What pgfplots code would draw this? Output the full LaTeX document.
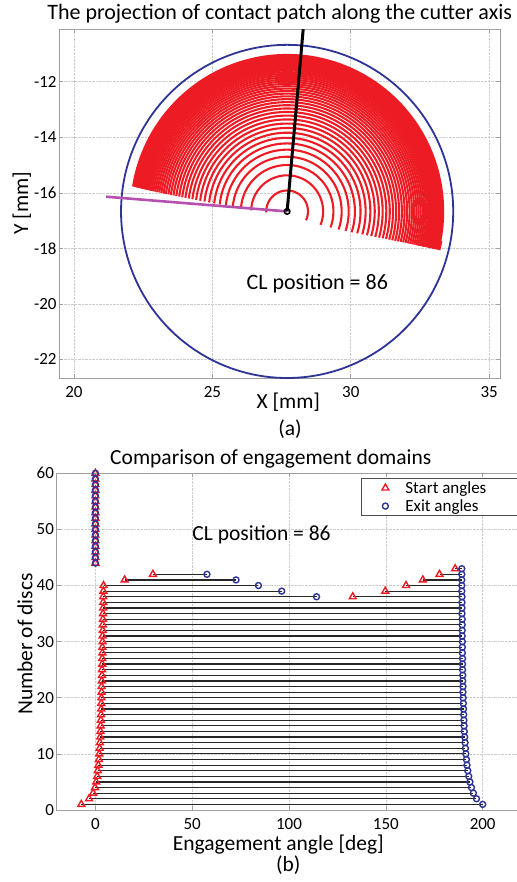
\documentclass[border=0pt]{standalone}
\usepackage{pgfplots}
\usepackage{pgfplotstable}
\pgfplotsset{compat=1.18}
\usepackage{fontspec}
\setmainfont{Carlito}

\definecolor{arcred}{RGB}{237,28,36}
\definecolor{cblue}{RGB}{46,52,150}
\definecolor{cpurple}{RGB}{182,80,176}

\pgfplotsset{
  wideimg/.style={legend image code/.code={
    \path[draw=none, fill=none] (0pt,-3pt) rectangle (40pt,3pt);
    \path[##1, draw=none] plot[only marks] coordinates {(21pt,0pt)};}},
}

% engagement segments: disc, start angle, exit angle [deg]
\pgfplotstableread{
disc start exit
1 -7.3 200.0
2 -3.3 196.8
3 -1.2 195.2
4 -0.2 194.2
5 0.4 193.4
6 0.9 192.8
7 1.2 192.3
8 1.5 191.9
9 1.8 191.6
10 2.0 191.3
11 2.2 191.1
12 2.3 190.9
13 2.5 190.7
14 2.6 190.5
15 2.7 190.4
16 2.8 190.3
17 2.9 190.2
18 3.0 190.1
19 3.0 190.0
20 3.1 189.9
21 3.2 189.8
22 3.2 189.8
23 3.3 189.7
24 3.4 189.7
25 3.4 189.6
26 3.5 189.6
27 3.5 189.6
28 3.6 189.5
29 3.6 189.5
30 3.7 189.5
31 3.7 189.4
32 3.8 189.4
33 3.8 189.4
34 3.9 189.4
35 3.9 189.3
36 4.0 189.3
37 4.0 189.3
38 4.0 114.2
38 132.9 189.3
39 4.1 96.2
39 149.7 189.2
40 4.2 84.2
40 160.4 189.2
41 15.1 72.6
41 169.1 189.2
42 29.7 57.6
42 177.7 189.2
43 185.8 189.2
44 0 0
45 0 0
46 0 0
47 0 0
48 0 0
49 0 0
50 0 0
51 0 0
52 0 0
53 0 0
54 0 0
55 0 0
56 0 0
57 0 0
58 0 0
59 0 0
60 0 0
}\segtab

\begin{document}
\begin{tikzpicture}
\path[use as bounding box] (0,0) rectangle (516pt,882pt);
\pgfplotsset{
  mystyle/.style={
    scale only axis,
    clip mode=individual,
    axis line style={gray!75, line width=0.8pt},
    tick style={gray!75, line width=0.6pt},
    tick align=inside,
    major tick length=4pt,
    grid=major,
    grid style={densely dotted, gray!40, line width=0.6pt},
    /pgf/number format/assume math mode=true,
    tick label style={font=\fontsize{17}{20}\selectfont, inner sep=0pt},
    xticklabel style={yshift=-8pt},
    yticklabel style={xshift=-2.6pt},
    label style={font=\fontsize{21.5}{24}\selectfont},
  }
}
% ---------------- (a) ----------------
\begin{axis}[mystyle,
  at={(59.3pt,503.7pt)}, anchor=south west,
  width=440.7pt, height=349pt,
  xmin=19.47, xmax=35.39, ymin=-22.68, ymax=-10.11,
  xtick={20,25,30,35}, ytick={-22,-20,-18,-16,-14,-12},
  title={The projection of contact patch along the cutter axis},
  every axis title/.style={at={(axis description cs:0.5,1.028)}, anchor=base,
    font=\fontsize{22}{26}\selectfont},
  xlabel={X [mm]},
  xlabel style={at={(axis description cs:0.5196,-0.086)}, anchor=base},
  ylabel={Y [mm]},
  ylabel style={at={(axis description cs:-0.0853,0.5014)}, anchor=center},
]
\foreach \r/\a/\b in {
0.7535/-7.3/200.0, 1.2999/-3.3/196.8, 1.6714/-1.2/195.2, 1.9696/-0.2/194.2,
2.2242/0.4/193.4, 2.4489/0.9/192.8, 2.6512/1.2/192.3, 2.8359/1.5/191.9,
3.0063/1.8/191.6, 3.1647/2.0/191.3, 3.3129/2.2/191.1, 3.4520/2.3/190.9,
3.5833/2.5/190.7, 3.7075/2.6/190.5, 3.8253/2.7/190.4, 3.9372/2.8/190.3,
4.0439/2.9/190.2, 4.1456/3.0/190.1, 4.2428/3.0/190.0, 4.3357/3.1/189.9,
4.4246/3.2/189.8, 4.5098/3.2/189.8, 4.5914/3.3/189.7, 4.6697/3.4/189.7,
4.7448/3.4/189.6, 4.8168/3.5/189.6, 4.8859/3.5/189.6, 4.9523/3.6/189.5,
5.0159/3.6/189.5, 5.0770/3.7/189.5, 5.1356/3.7/189.4, 5.1918/3.8/189.4,
5.2457/3.8/189.4, 5.2973/3.9/189.4, 5.3468/3.9/189.3, 5.3941/4.0/189.3,
5.4393/4.0/189.3, 5.4826/4.0/189.3, 5.5239/4.1/189.2, 5.5632/4.2/189.2,
5.6006/4.2/189.2, 5.6362/4.2/189.2, 5.6700/185.8/189.2}{
  \edef\temp{\noexpand\addplot[arcred, line width=2.1pt, domain=\a:\b, samples=80]
    ({27.70+\r*cos(175-x)},{-16.67+\r*sin(175-x)});}
  \temp
}
\addplot[cblue, line width=1.8pt, domain=0:360, samples=181]
  ({27.70+6.0*cos(x)},{-16.67+6.0*sin(x)});
\addplot[cpurple, line width=2.6pt] coordinates {(21.16,-16.14) (27.70,-16.67)};
\addplot[black, line width=3pt] coordinates {(27.70,-16.67) (28.28,-10.11)};
\addplot[black, only marks, mark=o, mark size=2.8pt, mark options={line width=1.5pt}]
  coordinates {(27.70,-16.67)};
\node[anchor=base, font=\fontsize{22}{26}\selectfont] at (axis cs:28.79,-19.5) {CL position = 86};
\node[anchor=base, font=\fontsize{21.5}{24}\selectfont] at (axis description cs:0.5235,-0.1625) {(a)};
\end{axis}
% ---------------- (b) ----------------
\begin{axis}[mystyle,
  at={(56.7pt,72pt)}, anchor=south west,
  width=464.7pt, height=336.7pt,
  xmin=-20, xmax=220, ymin=0, ymax=60,
  xtick={0,50,100,150,200}, ytick={0,10,20,30,40,50,60},
  title={Comparison of engagement domains},
  every axis title/.style={at={(axis description cs:0.4607,1.0247)}, anchor=base,
    font=\fontsize{21.5}{26}\selectfont},
  xlabel={Engagement angle [deg]},
  xlabel style={at={(axis description cs:0.4769,-0.1209)}, anchor=base},
  ylabel={Number of discs},
  ylabel style={at={(axis description cs:-0.0682,0.493)}, anchor=center},
  legend cell align=left,
  legend style={at={(axis description cs:0.6546,0.985)}, anchor=north west,
    draw=gray!60!black, line width=1pt, fill=white,
    font=\fontsize{17}{17}\selectfont,
    inner ysep=1.5pt, row sep=2.8pt,
    nodes={inner sep=1pt}},
]
\addplot[black!85, line width=1.2pt, forget plot,
  quiver={u={\thisrow{exit}-(\thisrow{start})}, v=0}]
  table[x=start, y=disc] {\segtab};
\addplot[arcred, only marks, mark=triangle, mark size=4pt, mark options={line width=1.4pt},
  wideimg]
  table[x=start, y=disc] {\segtab};
\addlegendentry{Start angles\hspace*{80pt}}
\addplot[cblue, only marks, mark=o, mark size=3pt, mark options={line width=1.4pt},
  wideimg]
  table[x=exit, y=disc] {\segtab};
\addlegendentry{Exit angles}
\node[anchor=base, font=\fontsize{21.5}{26}\selectfont] at (axis cs:85.8,48) {CL position = 86};
\node[anchor=base, font=\fontsize{21.5}{24}\selectfont] at (axis description cs:0.4984,-0.1833) {(b)};
\end{axis}
\end{tikzpicture}
\end{document}
